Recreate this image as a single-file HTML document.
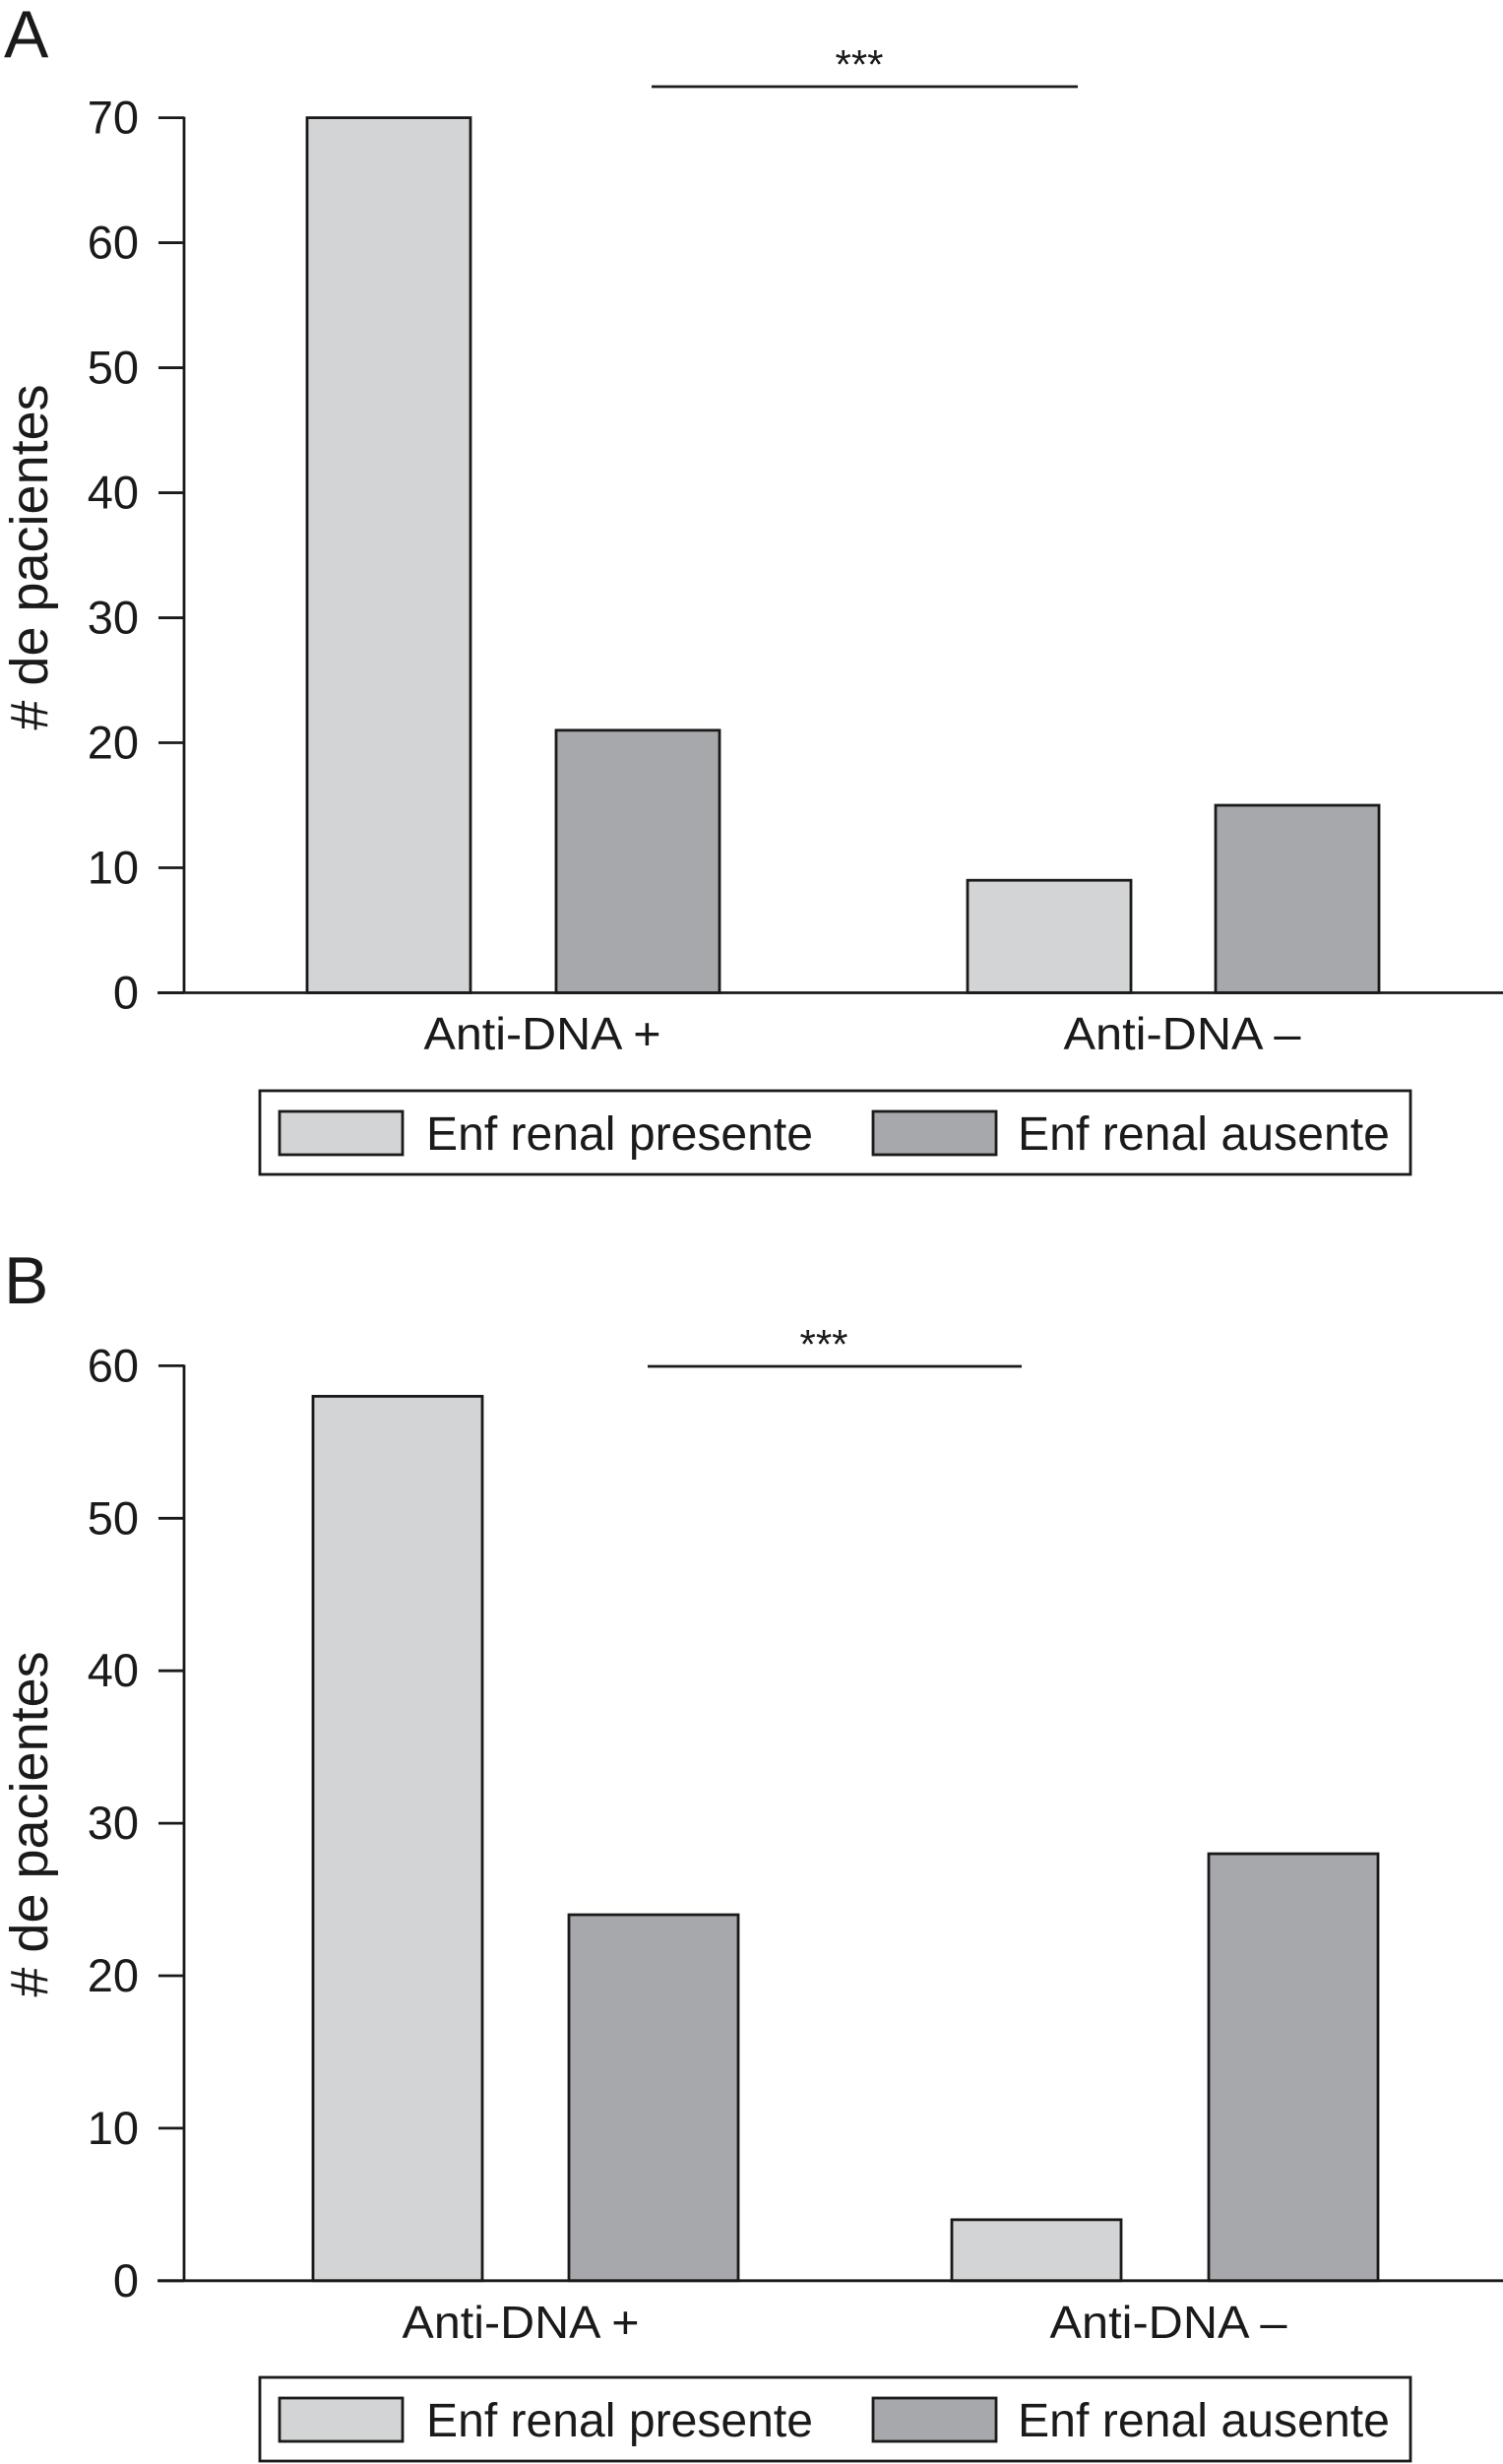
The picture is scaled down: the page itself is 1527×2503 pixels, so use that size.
<!DOCTYPE html>
<html><head><meta charset="utf-8"><style>
html,body{margin:0;padding:0;background:#fff;}
svg{display:block;}
text{font-family:"Liberation Sans Narrow","Liberation Sans",sans-serif;fill:#1a1a1a;}
</style></head>
<body>
<svg id="chart" width="1527" height="2503" viewBox="0 0 1527 2503" xmlns="http://www.w3.org/2000/svg"></svg>
<script>
const categories = ["Anti-DNA +", "Anti-DNA \u2013"];
const seriesNames = ["Enf renal presente", "Enf renal ausente"];
const panelAPresente = [70, 9];
const panelAAusente = [21, 15];
const panelBPresente = [58, 4];
const panelBAusente = [24, 28];
const panelATicks = [0, 10, 20, 30, 40, 50, 60, 70];
const panelBTicks = [0, 10, 20, 30, 40, 50, 60];

const NS = "http://www.w3.org/2000/svg";
const svg = document.getElementById("chart");
const colors = ["#d3d4d6", "#a7a8ab"];
const SW = 2.8;

function mk(tag, attrs, parent, txt) {
  const e = document.createElementNS(NS, tag);
  for (const k in attrs) e.setAttribute(k, attrs[k]);
  if (txt !== undefined) e.textContent = txt;
  parent.appendChild(e);
  return e;
}

function panel(cfg) {
  const g = mk("g", {}, svg);
  
  
  const yScale = v => cfg.y0 - (v / cfg.maxV) * (cfg.y0 - cfg.yTop);
  const L = mk("text", {x: 4, y: cfg.letterY, "font-size": 68, "font-family": "Liberation Sans, sans-serif"}, g, cfg.letter);
  
  
  const yt = mk("text", {x: 0, y: 0, "font-size": 54, "text-anchor": "middle", "font-family": "Liberation Sans, sans-serif",
    transform: `translate(${48},${cfg.titleY}) rotate(-90)`}, g, "# de pacientes");
  
  
  const series = [cfg.pres, cfg.aus];
  for (let c = 0; c < categories.length; c++) {
    for (let s = 0; s < 2; s++) {
      const x = cfg.barX[c][s];
      const top = yScale(series[s][c]);
      const r = mk("rect", {x: x, y: top, width: cfg.barW, height: cfg.y0 - top, fill: colors[s], stroke: "#1a1a1a", "stroke-width": SW}, g);
      
      
    }
    const xl = mk("text", {x: cfg.labelX[c], y: cfg.xLabelY, "font-size": 46, "text-anchor": "middle", textLength: 241, lengthAdjust: "spacingAndGlyphs"}, g, categories[c]);
    
    
  }
  const ya = mk("line", {x1: 187, y1: yScale(cfg.maxV) - 1, x2: 187, y2: cfg.y0, stroke: "#1a1a1a", "stroke-width": SW}, g);
  
  
  const xa = mk("line", {x1: 160, y1: cfg.y0, x2: 1527, y2: cfg.y0, stroke: "#1a1a1a", "stroke-width": SW}, g);
  
  
  cfg.ticks.forEach(t => {
    const y = yScale(t);
    const tl = mk("line", {x1: 161, y1: y, x2: 187, y2: y, stroke: "#1a1a1a", "stroke-width": SW}, g);
    
    
    const tx = mk("text", {x: 141, y: y + 16, "font-size": 47, "text-anchor": "end"}, g, String(t));
    
    
  });
  const sl = mk("line", {x1: cfg.sig[0], y1: cfg.sigY, x2: cfg.sig[1], y2: cfg.sigY, stroke: "#1a1a1a", "stroke-width": SW}, g);
  
  
  const st = mk("text", {x: cfg.starX, y: cfg.sigY - 8, "font-size": 42, "text-anchor": "middle", "font-family": "Liberation Sans, sans-serif"}, g, "***");
  
  
  const lg = mk("g", {}, g);
  
  
  const lb = mk("rect", {x: 264, y: cfg.legY, width: 1169, height: 85, fill: "#fff", stroke: "#1a1a1a", "stroke-width": SW}, lg);
  
  
  const sx = [284, 887], tx = [433, 1034], tw = [393, 378];
  for (let s = 0; s < 2; s++) {
    const sw = mk("rect", {x: sx[s], y: cfg.legY + 21, width: 125, height: 44, fill: colors[s], stroke: "#1a1a1a", "stroke-width": SW}, lg);
    
    
    const lt = mk("text", {x: tx[s], y: cfg.legY + 60, "font-size": 48, textLength: tw[s], lengthAdjust: "spacingAndGlyphs"}, lg, seriesNames[s]);
    
    
  }
}

panel({name: "panel-a", letter: "A", letterY: 58, titleY: 566, y0: 1008.5, yTop: 119.6, maxV: 70,
  ticks: panelATicks, pres: panelAPresente, aus: panelAAusente,
  barX: [[312, 565], [983, 1235]], barW: 166, xLabelY: 1066, labelX: [551, 1201],
  sig: [662, 1095], sigY: 88, starX: 873, legY: 1108});
panel({name: "panel-b", letter: "B", letterY: 1324, titleY: 1853, y0: 2316.8, yTop: 1387.4, maxV: 60,
  ticks: panelBTicks, pres: panelBPresente, aus: panelBAusente,
  barX: [[318, 578], [967, 1228]], barW: 172, xLabelY: 2375, labelX: [529, 1187],
  sig: [658, 1038], sigY: 1388, starX: 837, legY: 2415});
</script>
</body></html>
